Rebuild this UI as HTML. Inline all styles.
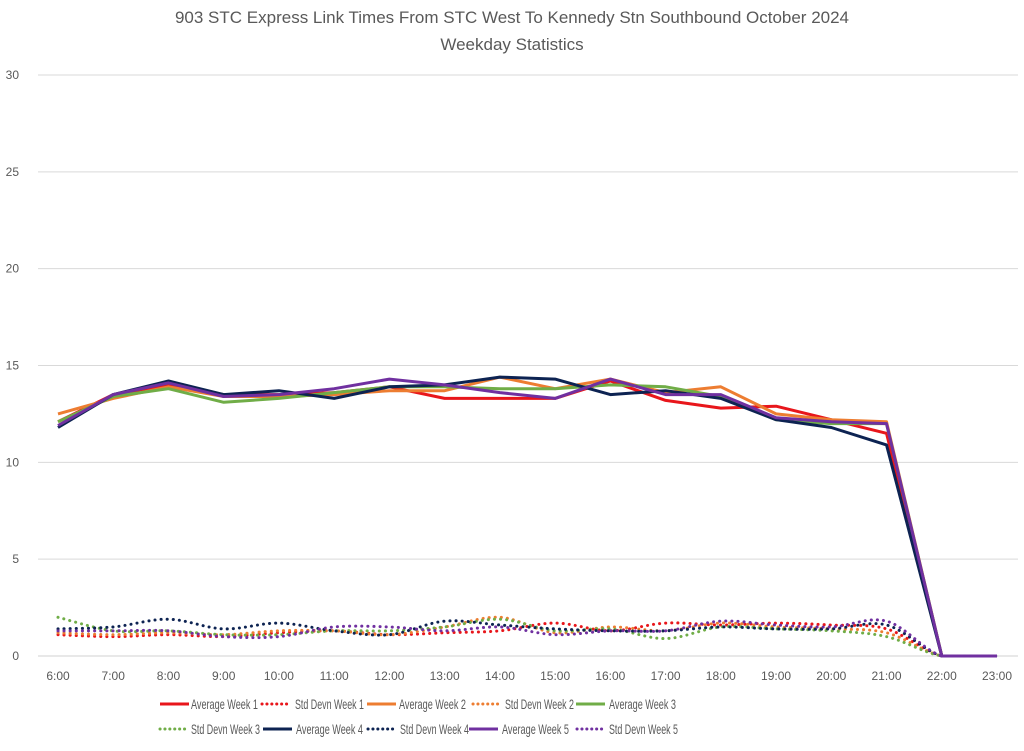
<!DOCTYPE html>
<html><head><meta charset="utf-8">
<style>
body{margin:0;background:#fff;width:1024px;height:746px;overflow:hidden;font-family:"Liberation Sans",sans-serif;}
svg text{font-family:"Liberation Sans",sans-serif;fill:#595959;}
</style></head>
<body>
<svg id="chart" width="1024" height="746" xmlns="http://www.w3.org/2000/svg">
<text x="512" y="23" font-size="17" text-anchor="middle">903 STC Express Link Times From STC West To Kennedy Stn Southbound October 2024</text>
<text x="512" y="50" font-size="17" text-anchor="middle">Weekday Statistics</text>
<g id="grid"></g>
<g id="series"></g>
<g id="legend"></g>
</svg>
<script>
const categories=["6:00","7:00","8:00","9:00","10:00","11:00","12:00","13:00","14:00","15:00","16:00","17:00","18:00","19:00","20:00","21:00","22:00","23:00"];
const yTicks=[0,5,10,15,20,25,30];
const avgW1=[12.1,13.5,14.0,13.5,13.5,13.6,13.9,13.3,13.3,13.3,14.2,13.2,12.8,12.9,12.2,11.5,0,0];
const sdW1=[1.1,1.0,1.1,1.0,1.2,1.3,1.1,1.2,1.3,1.7,1.3,1.7,1.6,1.7,1.6,1.4,0,0];
const avgW2=[12.5,13.3,13.9,13.4,13.4,13.5,13.7,13.7,14.4,13.8,14.3,13.6,13.9,12.5,12.2,12.1,0,0];
const sdW2=[1.2,1.1,1.2,1.1,1.3,1.3,1.1,1.5,2.0,1.2,1.5,1.3,1.7,1.5,1.4,1.2,0,0];
const avgW3=[12.1,13.4,13.8,13.1,13.3,13.6,13.9,13.9,13.8,13.8,14.0,13.9,13.4,12.2,12.0,12.0,0,0];
const sdW3=[2.0,1.3,1.3,1.1,1.1,1.3,1.3,1.5,1.9,1.3,1.4,0.9,1.5,1.4,1.3,1.0,0,0];
const avgW4=[11.8,13.5,14.2,13.5,13.7,13.3,13.9,14.0,14.4,14.3,13.5,13.7,13.3,12.2,11.8,10.9,0,0];
const sdW4=[1.4,1.5,1.9,1.4,1.7,1.3,1.1,1.8,1.6,1.4,1.3,1.3,1.5,1.4,1.4,1.6,0,0];
const avgW5=[11.9,13.5,14.1,13.4,13.5,13.8,14.3,14.0,13.6,13.3,14.3,13.5,13.5,12.3,12.1,12.0,0,0];
const sdW5=[1.3,1.3,1.3,1.0,1.0,1.5,1.5,1.3,1.5,1.1,1.3,1.3,1.8,1.6,1.5,1.8,0,0];

const NS="http://www.w3.org/2000/svg";
const X0=58,X1=997,Y0=656,Y30=75;
function xs(i){return X0+i*(X1-X0)/(categories.length-1);}
function ys(v){return Y0-(v/30)*(Y0-Y30);}
function mk(tag,attrs,parent){const e=document.createElementNS(NS,tag);for(const k in attrs)e.setAttribute(k,attrs[k]);parent.appendChild(e);return e;}
const grid=document.getElementById('grid');
yTicks.forEach(t=>{
  const l=mk('line',{x1:38,x2:1018,y1:ys(t),y2:ys(t),stroke:t===0?'#d0d0d0':'#d9d9d9','stroke-width':1},grid);
  
  
  const tx=mk('text',{x:19,y:ys(t)+4,'font-size':12,'text-anchor':'end'},grid);
  tx.textContent=t;
  
  
});
categories.forEach((c,i)=>{
  const tx=mk('text',{x:xs(i),y:680,'font-size':12,'text-anchor':'middle'},grid);
  tx.textContent=c;
  
  
});
function straight(d){return d.map((v,i)=>(i?'L':'M')+xs(i).toFixed(1)+','+ys(v).toFixed(1)).join(' ');}
function smooth(d){
  const p=d.map((v,i)=>[xs(i),ys(v)]);
  let s='M'+p[0][0]+','+p[0][1];
  for(let i=0;i<p.length-1;i++){
    const p0=p[i-1]||p[i],p1=p[i],p2=p[i+1],p3=p[i+2]||p2;
    const c1=[p1[0]+(p2[0]-p0[0])/6,Math.min(Y0,p1[1]+(p2[1]-p0[1])/6)];
    const c2=[p2[0]-(p3[0]-p1[0])/6,Math.min(Y0,p2[1]-(p3[1]-p1[1])/6)];
    s+=' C'+c1.join(',')+' '+c2.join(',')+' '+p2.join(',');
  }
  return s;
}
const series=[
 {n:'Average Week 1',d:avgW1,c:'#e8161b',dot:false},
 {n:'Std Devn Week 1',d:sdW1,c:'#e8161b',dot:true},
 {n:'Average Week 2',d:avgW2,c:'#ed7d31',dot:false},
 {n:'Std Devn Week 2',d:sdW2,c:'#ed7d31',dot:true},
 {n:'Average Week 3',d:avgW3,c:'#70ad47',dot:false},
 {n:'Std Devn Week 3',d:sdW3,c:'#70ad47',dot:true},
 {n:'Average Week 4',d:avgW4,c:'#0d2352',dot:false},
 {n:'Std Devn Week 4',d:sdW4,c:'#0d2352',dot:true},
 {n:'Average Week 5',d:avgW5,c:'#7030a0',dot:false},
 {n:'Std Devn Week 5',d:sdW5,c:'#7030a0',dot:true}
];
const sg=document.getElementById('series');
series.forEach(s=>{
  const attrs={d:s.dot?smooth(s.d):straight(s.d),fill:'none',stroke:s.c,'stroke-width':3,'stroke-linejoin':'round'};
  if(s.dot){attrs['stroke-dasharray']='0.1 6';attrs['stroke-linecap']='round';}
  const p=mk('path',attrs,sg);
  
  
});
const legPos=[[160,191,709],[262,295,709],[367,399,709],[473,505,709],[576,609,709],[160,191,734],[263,296,734],[368,400,734],[469,502,734],[577,609,734]];
const lg=document.getElementById('legend');
series.forEach((s,i)=>{
  const [lx,tx,y]=legPos[i];
  const g=mk('g',{},lg);
  
  
  const a={x1:lx,x2:lx+(s.dot?25:29),y1:y-5,y2:y-5,stroke:s.c,'stroke-width':3};
  if(s.dot){a['stroke-dasharray']='0.1 4.8';a['stroke-linecap']='round';}
  mk('line',a,g);
  const t=mk('text',{x:tx,y:y,'font-size':14,textLength:s.n.startsWith('Average')?67:69,lengthAdjust:'spacingAndGlyphs'},g);
  t.textContent=s.n;
});
</script>
</body></html>
